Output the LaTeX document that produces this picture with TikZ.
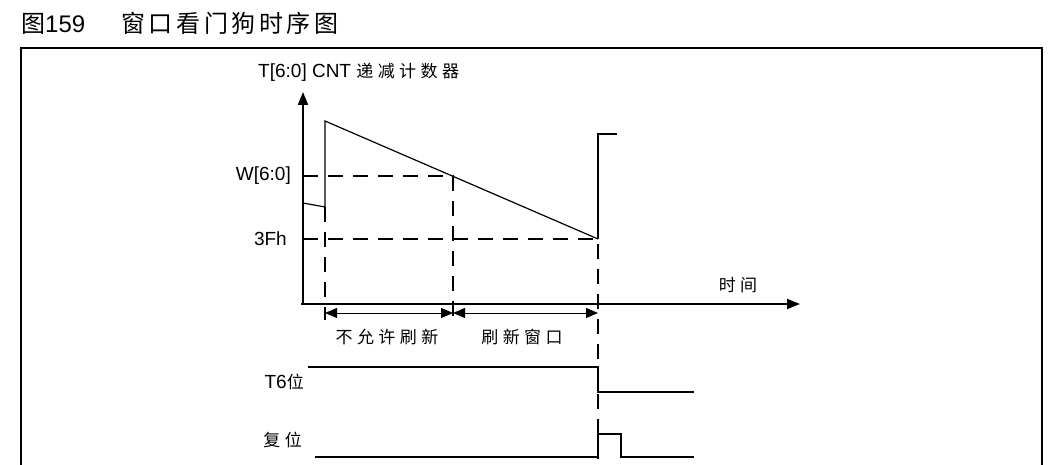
\documentclass[tikz,border=0pt]{standalone}
\usepackage{fontspec}
\setmainfont{Liberation Sans}
\newfontfamily\cjk[LetterSpace=26]{Noto Sans CJK SC}
\newfontfamily\cjktitle[LetterSpace=15]{Noto Sans CJK SC}
\usetikzlibrary{arrows.meta}

\begin{document}
\begin{tikzpicture}[x=1pt, y=-1pt,
	dashline/.style={line width=1.3, dash pattern=on 15 off 10},
	sigline/.style={line width=1.5},
	tip/.style={-{Triangle[length=13, width=10]}},
	lbl/.style={inner sep=0, font=\fontsize{19}{19}\selectfont},
	cjklbl/.style={inner sep=0, font=\fontsize{17}{17}\selectfont\cjk}]
	%%%%% START %%%%%
	\useasboundingbox (0,0) rectangle (1064,465);
	
	\node[anchor=west, inner sep=0, font=\fontsize{24}{24}\selectfont] (title) at (21,23) {{\cjktitle 图}159\hspace{36pt}{\cjktitle 窗口看门狗时序图}};
	\draw[line width=2] (21,465) -- (21,48) -- (1042,48) -- (1042,465);
	
	\coordinate (o) at (303,304);
	\coordinate (ytop) at (303,92);
	\coordinate (xend) at (800,304);
	\draw[tip, line width=2] (o) -- (ytop);
	\draw[tip, line width=2] (301,304) -- (xend);
	
	\node[lbl, anchor=west] (ylab) at (258,72) {T[6:0] CNT {\fontsize{17}{17}\selectfont\cjk 递减计数器}};
	\node[lbl, anchor=east] (wlab) at (291,176) {W[6:0]};
	\node[lbl, anchor=east] (flab) at (287,239) {3Fh};
	\node[cjklbl] (tlab) at (738,285) {时间};
	
	\coordinate (reload) at (325,121);
	\coordinate (wcross) at (453,176);
	\coordinate (under) at (598,239);
	\draw[line width=1.2] (303,203) -- (325,207) -- (reload) -- (under);
	\draw[line width=1.6] (under) -- (598,134) -- (617,134);
	
	\draw[dashline] (303,176) -- (wcross) -- (453,320);
	\draw[dashline] (303,239) -- (under) -- (598,465);
	\draw[dashline] (325,207) -- (325,320);
	
	\coordinate (d1) at (325,313);
	\coordinate (d2) at (453,313);
	\coordinate (d3) at (598,313);
	\draw[line width=0.8, {Triangle[length=12, width=10]}-{Triangle[length=12, width=10]}] (d1) -- (d2);
	\draw[line width=0.8, {Triangle[length=12, width=10]}-{Triangle[length=12, width=10]}] (d2) -- (d3);
	\node[cjklbl] (nolab) at (387,337) {不允许刷新};
	\node[cjklbl] (winlab) at (522,337) {刷新窗口};
	
	\node[lbl, anchor=east] (t6lab) at (304,382) {T6{\fontsize{17}{17}\selectfont\cjk 位}};
	\draw[sigline] (308,367) -- (598,367) -- (598,392) -- (694,392);
	\node[cjklbl, anchor=east] (rstlab) at (302,440) {复位};
	\draw[sigline] (315,457) -- (598,457) -- (598,434) -- (621,434) -- (621,457) -- (694,457);
	
	%%%%% END %%%%%
\end{tikzpicture}
\end{document}
